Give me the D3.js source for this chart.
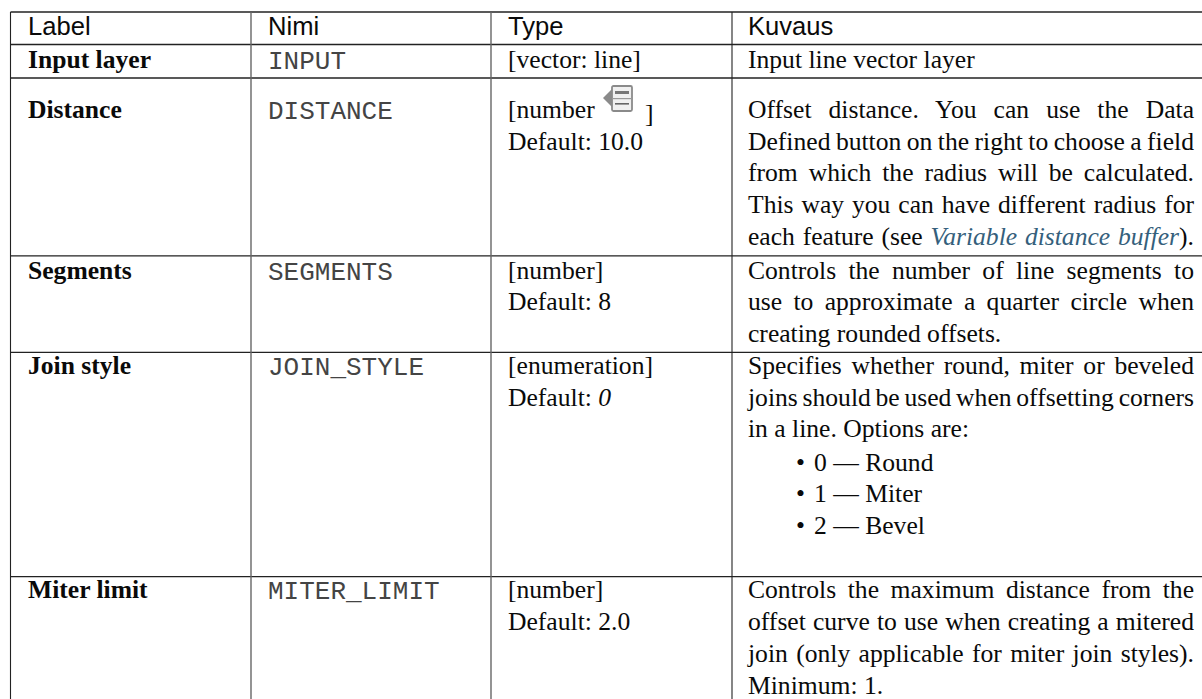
<!DOCTYPE html>
<html>
<head>
<meta charset="utf-8">
<script src="https://d3js.org/d3.v7.min.js"></script>
<style>
  html, body { margin: 0; background: #fff; overflow: hidden; }
  svg { display: block; }
</style>
</head>
<body>
<svg id="table"></svg>
<script>
// table content
const headers = ['Label', 'Nimi', 'Type', 'Kuvaus'];
const labels = ['Input layer', 'Distance', 'Segments', 'Join style', 'Miter limit'];
const names = ['INPUT', 'DISTANCE', 'SEGMENTS', 'JOIN_STYLE', 'MITER_LIMIT'];
const types = ['[vector: line]', '[number', '[number]', '[enumeration]', '[number]'];
const defaults = [null, '10.0', '8', '0', '2.0'];
const descriptions = [
  ['Input line vector layer'],
  ['Offset distance. You can use the Data',
   'Defined button on the right to choose a field',
   'from which the radius will be calculated.',
   'This way you can have different radius for',
   'each feature (see |Variable distance buffer|).'],
  ['Controls the number of line segments to',
   'use to approximate a quarter circle when',
   'creating rounded offsets.'],
  ['Specifies whether round, miter or beveled',
   'joins should be used when offsetting corners',
   'in a line. Options are:'],
  ['Controls the maximum distance from the',
   'offset curve to use when creating a mitered',
   'join (only applicable for miter join styles).',
   'Minimum: 1.']
];
const lastLines = ['Input line vector layer', 'creating rounded offsets.', 'in a line. Options are:', 'Minimum: 1.'];
const joinOptions = ['0 — Round', '1 — Miter', '2 — Bevel'];

// layout
const width = 1202, height = 699;
const colEdges = [10.5, 251, 491, 732];
const rowEdges = [12, 44.5, 78, 255.8, 352.3, 576.7];
const colText = [28, 268, 508, 748];
const textRight = 1194;
const headerBase = 35;
const rowBase = [68, 118, 278.5, 374, 598.4];
const pitch = 31.7;
const fontSize = 25.6;

const serif = '"Liberation Serif", serif';
const sans = '"Liberation Sans", sans-serif';
const mono = '"Liberation Mono", monospace';

const svg = d3.select('#table').attr('width', width).attr('height', height);

// grid lines
svg.selectAll('line.h')
  .data(rowEdges)
  .join('line')
    .attr('class', 'h')
    .attr('x1', colEdges[0]).attr('x2', width)
    .attr('y1', d => d).attr('y2', d => d)
    .attr('stroke', '#222').attr('stroke-width', 1.3);

svg.selectAll('line.v')
  .data(colEdges)
  .join('line')
    .attr('class', 'v')
    .attr('x1', d => d).attr('x2', d => d)
    .attr('y1', rowEdges[0]).attr('y2', height)
    .attr('stroke', (d, i) => (i === 1 || i === 2) ? '#666' : '#222')
    .attr('stroke-width', (d, i) => (i === 1 || i === 2) ? 1.4 : 1.1);

const addText = (x, y, str, font) => svg.append('text')
    .attr('x', x).attr('y', y)
    .attr('font-family', font)
    .attr('font-size', fontSize)
    .attr('fill', '#0a0a0a')
    .text(str);

// header
headers.forEach((h, i) => addText(colText[i], headerBase, h, sans));

// first three columns
labels.forEach((l, i) => {
  addText(colText[0], rowBase[i], l, serif).attr('font-weight', 'bold');
  addText(colText[1], rowBase[i] + 1, names[i], mono).attr('fill', '#444').attr('font-size', 26);
  addText(colText[2], rowBase[i], types[i], serif);
  if (defaults[i] !== null) {
    const t = addText(colText[2], rowBase[i] + pitch, 'Default: ', serif);
    t.append('tspan')
      .attr('font-style', i === 3 ? 'italic' : 'normal')
      .text(defaults[i]);
  }
});

// data defined icon and closing bracket in the Distance row
const icon = svg.append('g').attr('transform', 'translate(603,85)');
icon.append('path').attr('d', 'M0 13 L9 4 L9 22 Z').attr('fill', '#8a8a8a');
icon.append('rect').attr('x', 9).attr('y', 1).attr('width', 20).attr('height', 25).attr('rx', 1.5)
  .attr('fill', '#f0f0f0').attr('stroke', '#8a8a8a').attr('stroke-width', 1.8);
icon.append('rect').attr('x', 9).attr('y', 13).attr('width', 20).attr('height', 1.2).attr('fill', '#999');
icon.append('rect').attr('x', 12).attr('y', 6).attr('width', 14).attr('height', 3).attr('fill', '#777');
icon.append('rect').attr('x', 12).attr('y', 18).attr('width', 14).attr('height', 1.6).attr('fill', '#666');
addText(645, rowBase[1] + 3.5, ']', serif);

// descriptions, justified to the right edge of the column
descriptions.forEach((lines, r) => {
  lines.forEach((line, j) => {
    const t = addText(colText[3], rowBase[r] + j * pitch, '', serif);
    line.split('|').forEach((part, k) => {
      const s = t.append('tspan').text(part);
      if (k === 1) s.attr('font-style', 'italic').attr('fill', '#355f7c');
    });
    if (!lastLines.includes(line)) {
      const spaces = line.split(' ').length - 1;
      const extra = (textRight - colText[3] - t.node().getComputedTextLength()) / spaces;
      t.attr('word-spacing', extra);
    }
  });
});

// bullet list under Join style
joinOptions.forEach((o, i) => {
  const y = rowBase[3] + (i + 3) * pitch + 1.5;
  addText(796, y, '•', serif);
  addText(814, y, o, serif);
});
</script>
</body>
</html>
